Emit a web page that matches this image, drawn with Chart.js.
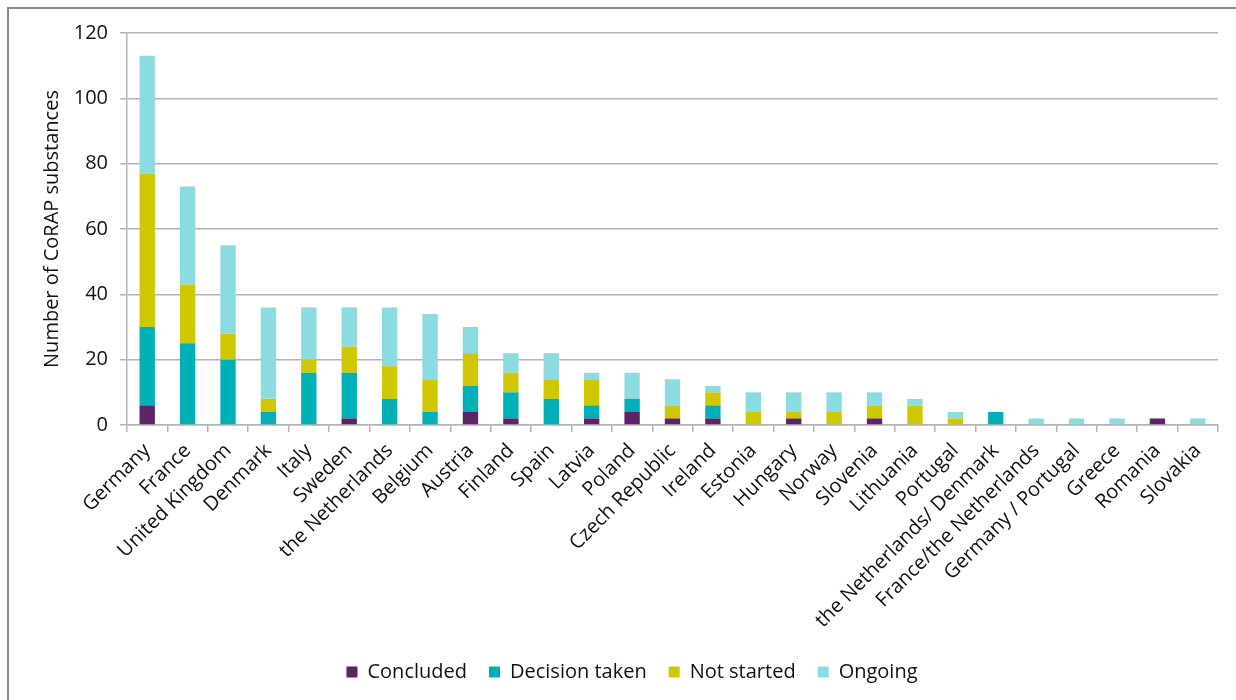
<!DOCTYPE html>
<html>
<head>
<meta charset="utf-8">
<script src="https://cdn.jsdelivr.net/npm/chart.js@4"></script>
<style>
  html, body { margin: 0; padding: 0; background: #fff; }
  #wrap { position: relative; width: 1236px; height: 700px; overflow: hidden; }
  #frame { position: absolute; left: 7px; top: 7px; width: 1300px; height: 800px;
           border: 2px solid #8a8a8a; box-sizing: border-box; }
  #chart { position: absolute; left: 0; top: 0; }
</style>
</head>
<body>
<div id="wrap">
  <div id="frame"></div>
  <canvas id="chart" width="1236" height="700"></canvas>
</div>
<script>
const countries = [
    "Germany", "France", "United Kingdom", "Denmark", "Italy", "Sweden",
    "the Netherlands", "Belgium", "Austria", "Finland", "Spain", "Latvia",
    "Poland", "Czech Republic", "Ireland", "Estonia", "Hungary", "Norway",
    "Slovenia", "Lithuania", "Portugal", "the Netherlands/ Denmark",
    "France/the Netherlands", "Germany / Portugal", "Greece", "Romania", "Slovakia"
];

const concluded     = [6, 0, 0, 0, 0, 2, 0, 0, 4, 2, 0, 2, 4, 2, 2, 0, 2, 0, 2, 0, 0, 0, 0, 0, 0, 2, 0];
const decisionTaken = [24, 25, 20, 4, 16, 14, 8, 4, 8, 8, 8, 4, 4, 0, 4, 0, 0, 0, 0, 0, 0, 4, 0, 0, 0, 0, 0];
const notStarted    = [47, 18, 8, 4, 4, 8, 10, 10, 10, 6, 6, 8, 0, 4, 4, 4, 2, 4, 4, 6, 2, 0, 0, 0, 0, 0, 0];
const ongoing       = [36, 30, 27, 28, 16, 12, 18, 20, 8, 6, 8, 2, 8, 8, 2, 6, 6, 6, 4, 2, 2, 0, 2, 2, 2, 0, 2];

const yTicks = [0, 20, 40, 60, 80, 100, 120];

const FONT = "'Open Sans', sans-serif";
const TEXT = "#111";
const GRID = "#b4b4b4";

function series(label, data, color) {
    return {
        label: label,
        data: data,
        backgroundColor: color,
        borderWidth: 0,
        categoryPercentage: 1,
        barPercentage: 0.38
    };
}

new Chart(document.getElementById("chart"), {
    type: "bar",
    data: {
        labels: countries,
        datasets: [
            series("Concluded", concluded, "#5e2367"),
            series("Decision taken", decisionTaken, "#00b0b9"),
            series("Not started", notStarted, "#cfc800"),
            series("Ongoing", ongoing, "#8bdce0")
        ]
    },
    options: {
        responsive: false,
        animation: false,
        // wider left padding keeps the legend centred under the plot area
        layout: { padding: { top: 33, right: 18, left: 46, bottom: 8 } },
        scales: {
            x: {
                stacked: true,
                afterFit: (scale) => { scale.height = 215; },
                border: { color: GRID, width: 1.5 },
                grid: { drawOnChartArea: false, drawTicks: true, offset: true, tickLength: 7, color: GRID, lineWidth: 1.5 },
                ticks: {
                    autoSkip: false,
                    maxRotation: 45,
                    minRotation: 45,
                    padding: 7,
                    color: TEXT,
                    font: { family: FONT, size: 20 }
                }
            },
            y: {
                stacked: true,
                min: 0,
                max: 120,
                afterFit: (scale) => { scale.width = 81; },
                afterBuildTicks: (scale) => { scale.ticks = yTicks.map(v => ({ value: v })); },
                border: { color: GRID, width: 1.5 },
                grid: { color: GRID, lineWidth: 1.5, tickLength: 7 },
                ticks: {
                    padding: 12,
                    color: TEXT,
                    font: { family: FONT, size: 20 }
                },
                title: {
                    display: true,
                    text: "Number of CoRAP substances",
                    color: TEXT,
                    padding: { top: -6, bottom: 0 },
                    font: { family: FONT, size: 20 }
                }
            }
        },
        plugins: {
            legend: {
                position: "bottom",
                labels: {
                    boxWidth: 11,
                    boxHeight: 11,
                    padding: 22,
                    color: TEXT,
                    font: { family: FONT, size: 20 }
                }
            },
            tooltip: { enabled: false }
        }
    }
});
</script>
</body>
</html>
